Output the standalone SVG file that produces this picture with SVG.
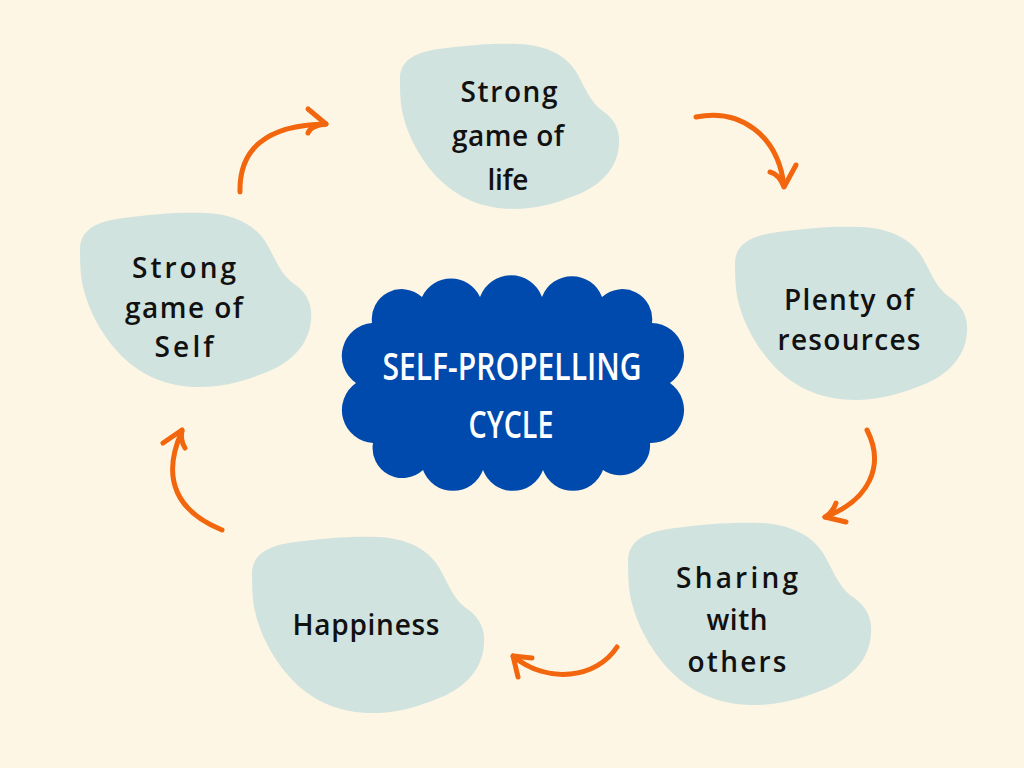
<svg xmlns="http://www.w3.org/2000/svg" xmlns:xlink="http://www.w3.org/1999/xlink" width="1024" height="768" viewBox="0 0 1024 768">
  <defs>
    <path id="blob" d="M1,33 C2,15 18,8 40,5 C70,1 95,-1 120,0 C145,1 165,10 176,26 C186,42 190,58 205,68 C218,77 221,90 220,100 C219,125 200,143 175,152 C155,160 135,165 115,165 C85,165 60,155 40,135 C20,115 5,85 2,60 C1,50 1,40 1,33 Z"/>
  </defs>
  <style>
    .bg { fill: #fef6e4; }
    .blob { fill: #d0e3df; }
    .cloud { fill: #004aad; }
    .lbl { font-family: "Open Sans", "Liberation Sans", sans-serif; font-weight: 600; font-size: 28px; fill: #111111; text-anchor: middle; }
    .title { font-family: "Open Sans", "Liberation Sans", sans-serif; font-weight: 600; font-size: 37px; fill: #ffffff; text-anchor: middle; }
    .arrow { fill: none; stroke: #f2660d; stroke-width: 5; stroke-linecap: round; stroke-linejoin: round; }
  </style>
  <rect class="bg" x="0" y="0" width="1024" height="768"/>

  <g id="connectors">
    <path class="arrow" d="M240,192 C239,150 265,125 326,124"/>
    <path class="arrow" d="M308,109 L326,124 M308,133 Q310,126 326,124"/>
    <path class="arrow" d="M696,117 C740,108 778,135 784,186"/>
    <path class="arrow" d="M770,172 Q779,174 784,187 L796,165"/>
    <path class="arrow" d="M867,430 C885,465 870,500 825,517"/>
    <path class="arrow" d="M836,503 Q833,512 825,517 L846,522"/>
    <path class="arrow" d="M617,647 C597,678 548,685 513,656"/>
    <path class="arrow" d="M532,658 Q522,657 513,656 L518,677"/>
    <path class="arrow" d="M222,530 C178,512 160,480 182,431"/>
    <path class="arrow" d="M163,443 L182,430 Q180,440 185,448"/>
  </g>

  <g id="node-center">
    <path class="cloud" d="M372,323 A30,30 0 0 1 422,297 A32,32 0 0 1 480,297 A33,33 0 0 1 542,297 A32,32 0 0 1 602,297 A30,30 0 0 1 652,323 A33,33 0 0 1 670,383 A33,33 0 0 1 650,443 A30,30 0 0 1 603,470 A32,32 0 0 1 543,470 A32,32 0 0 1 483,470 A32,32 0 0 1 423,470 A30,30 0 0 1 373,443 A33,33 0 0 1 356,383 A33,33 0 0 1 372,323 Z"/>
    <text class="title" x="512" y="380" textLength="259" lengthAdjust="spacingAndGlyphs">SELF-PROPELLING</text>
    <text class="title" x="511" y="438" textLength="85" lengthAdjust="spacingAndGlyphs">CYCLE</text>
  </g>

  <g id="node-life">
    <use xlink:href="#blob" class="blob" transform="translate(399,44)"/>
    <text class="lbl" x="509" y="102" textLength="97">Strong</text>
    <text class="lbl" x="508" y="146" textLength="112">game of</text>
    <text class="lbl" x="508" y="190" textLength="41">life</text>
  </g>

  <g id="node-resources">
    <use xlink:href="#blob" class="blob" transform="translate(734,227) scale(1.059,1.048)"/>
    <text class="lbl" x="849" y="310" textLength="130">Plenty of</text>
    <text class="lbl" x="849" y="350" textLength="143">resources</text>
  </g>

  <g id="node-sharing">
    <use xlink:href="#blob" class="blob" transform="translate(627,523) scale(1.109,1.103)"/>
    <text class="lbl" x="737" y="588" textLength="122">Sharing</text>
    <text class="lbl" x="737" y="630" textLength="61">with</text>
    <text class="lbl" x="737" y="672" textLength="99">others</text>
  </g>

  <g id="node-happiness">
    <use xlink:href="#blob" class="blob" transform="translate(251,537) scale(1.059,1.067)"/>
    <text class="lbl" x="366" y="635" textLength="147">Happiness</text>
  </g>

  <g id="node-self">
    <use xlink:href="#blob" class="blob" transform="translate(79,213) scale(1.055,1.055)"/>
    <text class="lbl" x="184" y="278" textLength="104">Strong</text>
    <text class="lbl" x="184" y="318" textLength="118">game of</text>
    <text class="lbl" x="184" y="357" textLength="59">Self</text>
  </g>
</svg>
